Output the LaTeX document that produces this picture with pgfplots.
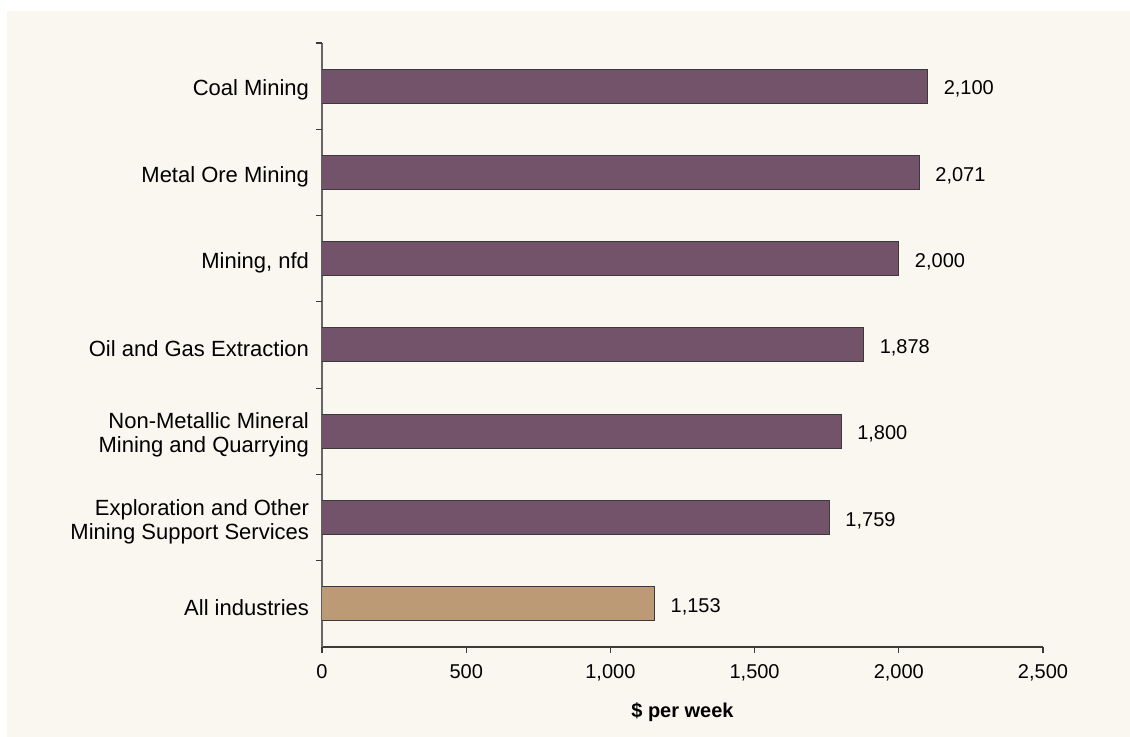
\documentclass[border=0pt]{standalone}
\usepackage{pgfplots}
\pgfplotsset{compat=1.18}
\usepackage{fontspec}
\setmainfont{Liberation Sans}
\definecolor{bgcream}{HTML}{FAF7F0}
\definecolor{barpurple}{HTML}{735369}
\definecolor{bartan}{HTML}{BC9A76}
\definecolor{edgegray}{HTML}{3A3A3A}
\begin{document}
\begin{tikzpicture}
\fill[white] (-161pt,-45pt) rectangle (404pt,323.5pt);
\fill[bgcream] (-157.5pt,-45pt) rectangle (404pt,318pt);
\begin{axis}[
  at={(0,0)}, anchor=south west,
  scale only axis,
  width=360.5pt, height=302pt,
  xbar, bar width=17pt, bar shift=0pt,
  xmin=0, xmax=2500,
  ymin=-0.5, ymax=6.5,
  axis x line*=bottom, axis y line*=left,
  x axis line style={edgegray, line width=0.6pt},
  y axis line style={black!60, line width=0.6pt},
  tick align=outside,
  major tick length=3pt,
  xtick={0,500,1000,1500,2000,2500},
  x tick style={edgegray, line width=0.6pt},
  ytick={0,1,2,3,4,5,6},
  y tick style={draw=none},
  extra y ticks={0.5,1.5,2.5,3.5,4.5,5.5,6.5},
  extra y tick labels={},
  extra y tick style={y tick style={draw=edgegray, line width=0.6pt}},
  yticklabels={All industries,{Exploration and Other\\Mining Support Services},{Non-Metallic Mineral\\Mining and Quarrying},{Oil and Gas Extraction},{Mining, nfd},{Metal Ore Mining},{Coal Mining}},
  yticklabel style={align=right, font=\fontsize{11}{12}\selectfont, text=black, xshift=0pt, yshift=-2pt},
  xticklabel style={font=\fontsize{10}{12}\selectfont, text=black, yshift=-2pt},
  /pgf/number format/assume math mode=true,
  /pgf/number format/1000 sep={,},
  scaled x ticks=false,
  xlabel={\textbf{\$ per week}},
  xlabel style={font=\fontsize{10}{12}\selectfont, yshift=-4pt},
  nodes near coords,
  nodes near coords style={anchor=west, xshift=4.5pt, yshift=-1.5pt, font=\fontsize{10}{12}\selectfont, text=black},
  every axis plot/.append style={draw=edgegray, line width=0.5pt},
]
\addplot[fill=barpurple] coordinates {(1759,1) (1800,2) (1878,3) (2000,4) (2071,5) (2100,6)};
\addplot[fill=bartan] coordinates {(1153,0)};
\end{axis}
\end{tikzpicture}
\end{document}
